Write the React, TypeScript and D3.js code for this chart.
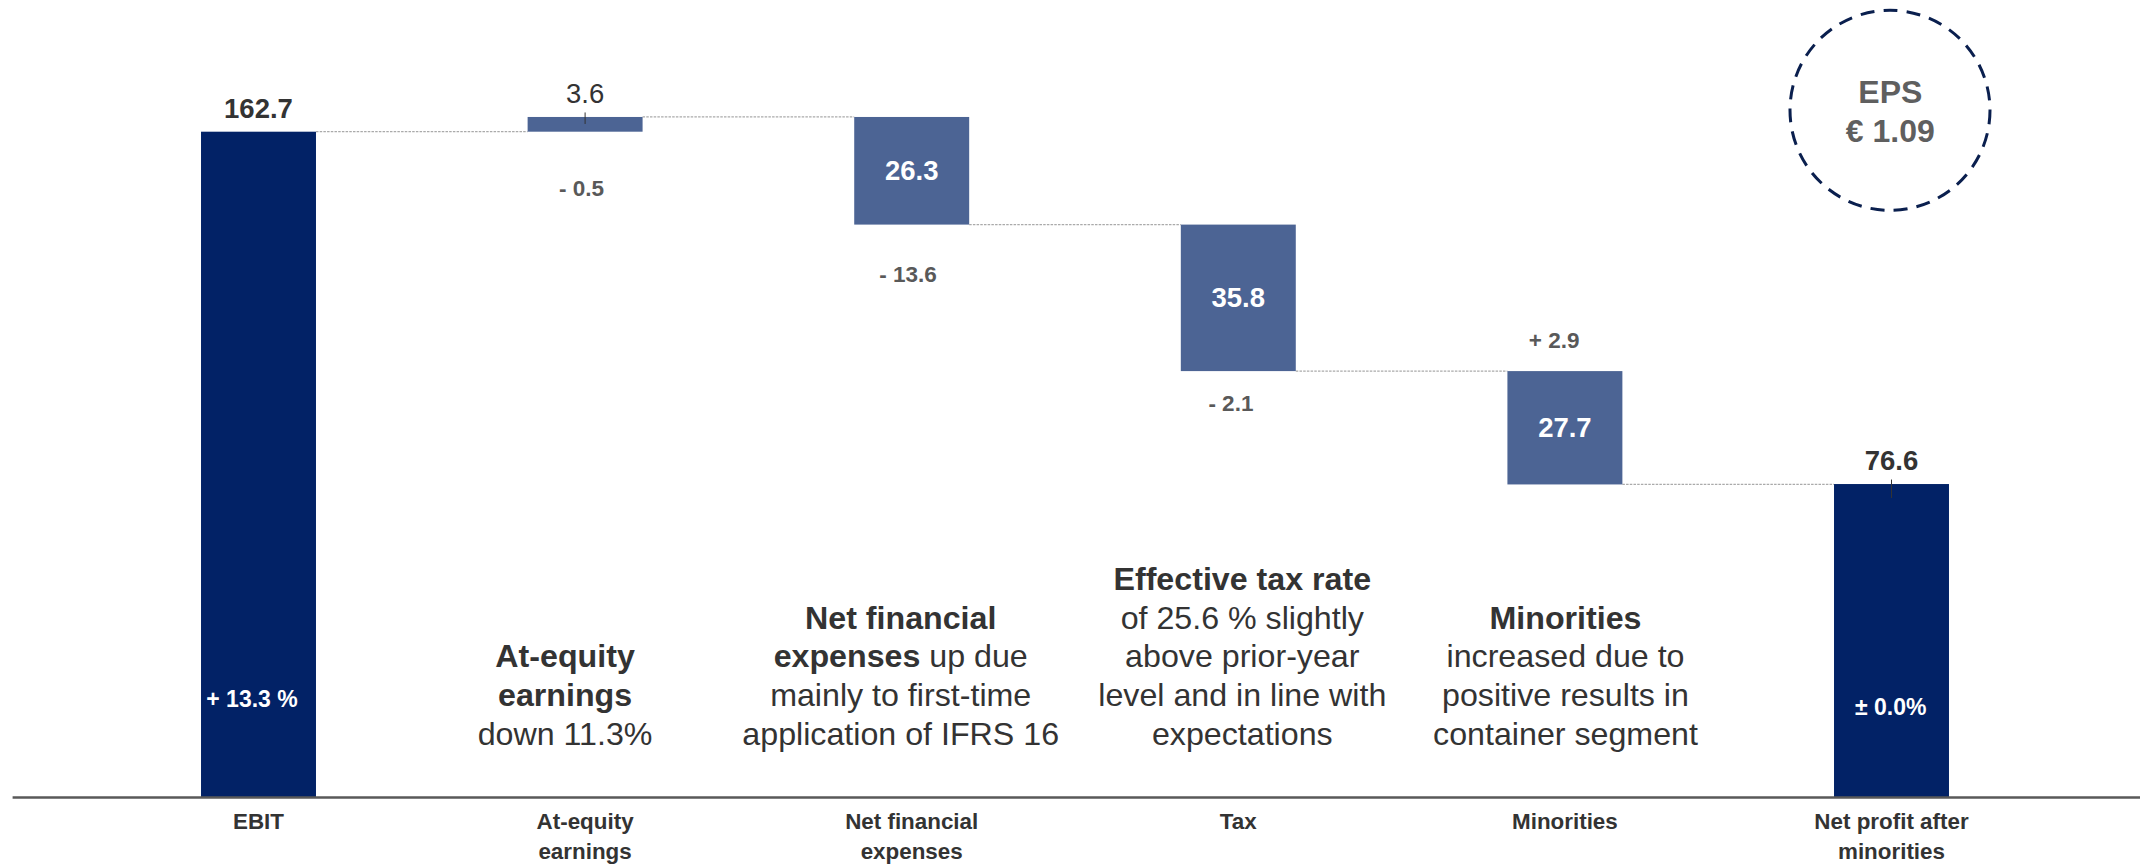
import React from 'react';
import * as d3 from 'd3';

// ---------- data ----------
const categories = ['EBIT', 'At-equity earnings', 'Net financial expenses', 'Tax', 'Minorities', 'Net profit after minorities'];
const categoryLines = [['EBIT'], ['At-equity', 'earnings'], ['Net financial', 'expenses'], ['Tax'], ['Minorities'], ['Net profit after', 'minorities']];
const kinds = ['total', 'delta', 'delta', 'delta', 'delta', 'total'];
const values = [162.7, 3.6, -26.3, -35.8, -27.7, 76.6];
const barLabels = ['162.7', '3.6', '26.3', '35.8', '27.7', '76.6'];
const changeLabels = [null, '- 0.5', '- 13.6', '- 2.1', '+ 2.9', null];
const pctLabels = ['+ 13.3 %', null, null, null, null, '± 0.0%'];
const epsLines = ['EPS', '€ 1.09'];
type Seg = [string, boolean];
const annotations: Seg[][][] = [
  [],
  [[['At-equity', true]], [['earnings', true]], [['down 11.3%', false]]],
  [[['Net financial', true]], [['expenses', true], [' up due', false]], [['mainly to first-time', false]], [['application of IFRS 16', false]]],
  [[['Effective tax rate', true]], [['of 25.6 % slightly', false]], [['above prior-year', false]], [['level and in line with', false]], [['expectations', false]]],
  [[['Minorities', true]], [['increased due to', false]], [['positive results in', false]], [['container segment', false]]],
  [],
];

// ---------- layout / style ----------
const W = 2145;
const H = 864;
const FONT = "'Liberation Sans', Arial, Helvetica, sans-serif";
const NAVY = '#022266';
const MID = '#4c6494';
const DARK = '#333333';
const GRAY = '#595959';

const changeDy = [0, 64.3, 57.4, 39.7, -23, 0];
const changeDx = [0, -3.5, -3.7, -7.4, -10.8, 0];
const pctDy = [-91, 0, 0, 0, 0, -82.5];
const pctDx = [-6.5, 0, 0, 0, 0, -0.8];
const annDx = [0, -20, -11, 4, 0.6, 0];

export default function App() {
  const x = d3.scaleBand<string>().domain(categories).range([95.2, 2054.8]).paddingInner(0.648).paddingOuter(0.324);
  const y = d3.scaleLinear().domain([0, 180]).range([797.5, 797.5 - 180 * 4.0922]);
  const bw = x.bandwidth();

  let running = 0;
  const bars = categories.map((c, i) => {
    let lo: number, hi: number, end: number;
    if (kinds[i] === 'total') {
      lo = 0; hi = values[i]; end = values[i];
    } else {
      const a = running, b = running + values[i];
      lo = Math.min(a, b); hi = Math.max(a, b); end = b;
    }
    running = end;
    return { c, i, lo, hi, end, x0: x(c) as number };
  });

  const lineH = 38.6;
  const lastBase = 744.5;

  return (
    <svg width={W} height={H} style={{ position: 'absolute', left: 0, top: 0, display: 'block', background: '#fff' }} fontFamily={FONT}>
      {/* connectors */}
      {bars.slice(0, -1).map((b, i) => {
        const nb = bars[i + 1];
        return (
          <line key={'c' + i} x1={b.x0 + bw} x2={nb.x0} y1={y(b.end)} y2={y(b.end)}
            stroke="#aaaaaa" strokeWidth={1.2} strokeDasharray="2.5,1.2" />
        );
      })}
      {/* bars */}
      {bars.map((b) => (
        <rect key={'b' + b.i} x={b.x0} width={bw} y={y(b.hi)} height={y(b.lo) - y(b.hi)}
          fill={kinds[b.i] === 'total' ? NAVY : MID} />
      ))}
      {/* value labels */}
      {bars.map((b) => {
        const cx = b.x0 + bw / 2;
        const hpx = y(b.lo) - y(b.hi);
        const total = kinds[b.i] === 'total';
        if (!total && hpx > 40) {
          return (
            <text key={'v' + b.i} x={cx} y={(y(b.lo) + y(b.hi)) / 2 + 9.5} textAnchor="middle"
              fontSize={27.5} fontWeight="bold" fill="#ffffff">{barLabels[b.i]}</text>
          );
        }
        return (
          <g key={'v' + b.i}>
            <text x={cx} y={y(b.hi) - 13.6} textAnchor="middle" fontSize={27.5}
              fontWeight={total ? 'bold' : 'normal'} fill={DARK}>{barLabels[b.i]}</text>
            {b.i > 0 && (
              <line x1={cx} x2={cx} y1={y(b.hi) - 4.5} y2={y(b.hi) + (total ? 14 : 7)} stroke={DARK} strokeWidth={1} />
            )}
          </g>
        );
      })}
      {/* change labels */}
      {bars.map((b) => {
        const t = changeLabels[b.i];
        if (!t) return null;
        const dy = changeDy[b.i];
        const yy = dy >= 0 ? y(b.lo) + dy : y(b.hi) + dy;
        return (
          <text key={'d' + b.i} x={b.x0 + bw / 2 + changeDx[b.i]} y={yy} textAnchor="middle"
            fontSize={22.5} fontWeight="bold" fill={GRAY}>{t}</text>
        );
      })}
      {/* percent labels inside totals */}
      {bars.map((b) => {
        const t = pctLabels[b.i];
        if (!t) return null;
        return (
          <text key={'p' + b.i} x={b.x0 + bw / 2 + pctDx[b.i]} y={y(0) + pctDy[b.i]} textAnchor="middle"
            fontSize={23} fontWeight="bold" fill="#ffffff">{t}</text>
        );
      })}
      {/* annotations */}
      {annotations.map((lines, i) => {
        if (!lines.length) return null;
        const cx = (x(categories[i]) as number) + bw / 2 + annDx[i];
        const first = lastBase - (lines.length - 1) * lineH;
        return (
          <g key={'a' + i}>
            {lines.map((segs, j) => (
              <text key={j} x={cx} y={first + j * lineH} textAnchor="middle" fontSize={32.2} fill={DARK}
                style={{ whiteSpace: 'pre' }}>
                {segs.map(([s, bold], k) => (
                  <tspan key={k} fontWeight={bold ? 'bold' : 'normal'}>{s}</tspan>
                ))}
              </text>
            ))}
          </g>
        );
      })}
      {/* axis */}
      <line x1={12.6} x2={2140} y1={y(0)} y2={y(0)} stroke={GRAY} strokeWidth={2.3} />
      {/* category labels */}
      {categoryLines.map((ls, i) => (
        <text key={'x' + i} textAnchor="middle" fontSize={22.4} fontWeight="bold" fill={DARK}>
          {ls.map((l, j) => (
            <tspan key={j} x={(x(categories[i]) as number) + bw / 2} y={829.3 + j * 29.8}>{l}</tspan>
          ))}
        </text>
      ))}
      {/* EPS circle */}
      <circle cx={1890} cy={110.3} r={100} fill="none" stroke="#0a1f4e" strokeWidth={3} strokeDasharray="14,9.2" />
      {epsLines.map((t, j) => (
        <text key={'e' + j} x={1890.3} y={103.3 + j * 39} textAnchor="middle" fontSize={32} fontWeight="bold" fill="#5f5f5f">{t}</text>
      ))}
    </svg>
  );
}
